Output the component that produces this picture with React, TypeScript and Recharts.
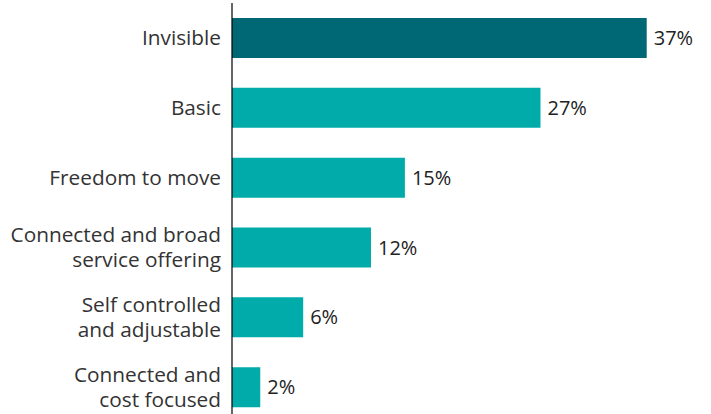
import React from "react";
import { BarChart, Bar, XAxis, YAxis, Cell, LabelList } from "recharts";

const categories = [
  "Invisible",
  "Basic",
  "Freedom to move",
  "Connected and broad\nservice offering",
  "Self controlled\nand adjustable",
  "Connected and\ncost focused",
];
const values = [36.7, 27.3, 15.3, 12.3, 6.3, 2.5];
const valueLabels = ["37%", "27%", "15%", "12%", "6%", "2%"];
const colors = ["#006874", "#00ABA9", "#00ABA9", "#00ABA9", "#00ABA9", "#00ABA9"];

const data = categories.map((c, i) => ({ name: c, value: values[i], label: valueLabels[i] }));

const FONT = "'Open Sans', sans-serif";

const Tick = (props: any) => {
  const { x, y, payload } = props;
  const lines = String(payload.value).split("\n");
  const lh = 25;
  const startDy = -((lines.length - 1) * lh) / 2;
  return (
    <text
      x={x}
      y={y - 1}
      textAnchor="end"
      fill="#333333"
      fontSize={20.8}
      fontFamily={FONT}
      dominantBaseline="central"
    >
      {lines.map((l, i) => (
        <tspan key={i} x={x} dy={i === 0 ? startDy : lh}>
          {l}
        </tspan>
      ))}
    </text>
  );
};

export default function App() {
  return (
    <div style={{ position: "absolute", left: 0, top: 0, width: 711, height: 414, overflow: "hidden", background: "#fff" }}>
      <BarChart
        width={711}
        height={422}
        data={data}
        layout="vertical"
        margin={{ top: 3, right: 27, bottom: 0, left: 0 }}
      >
        <XAxis type="number" domain={[0, 40]} hide />
        <YAxis
          type="category"
          dataKey="name"
          width={232}
          tick={<Tick />}
          tickLine={false}
          tickMargin={5}
          axisLine={{ stroke: "#000000", strokeWidth: 1.2 }}
          interval={0}
        />
        <Bar dataKey="value" barSize={40} isAnimationActive={false}>
          {data.map((d, i) => (
            <Cell key={i} fill={colors[i]} />
          ))}
          <LabelList
            dataKey="label"
            position="right"
            offset={7}
            fill="#222222"
            fontSize={20}
            fontFamily={FONT}
          />
        </Bar>
      </BarChart>
    </div>
  );
}
